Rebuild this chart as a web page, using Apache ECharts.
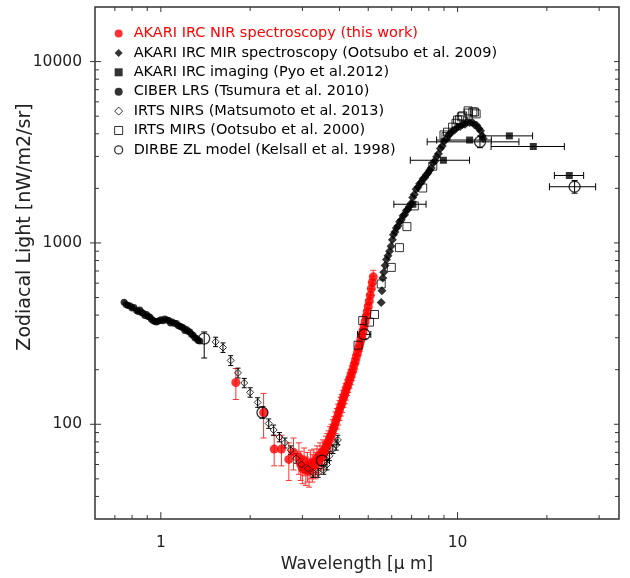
<!DOCTYPE html>
<html><head><meta charset="utf-8">
<script src="https://cdn.jsdelivr.net/npm/echarts@6/dist/echarts.min.js"></script>
<style>html,body{margin:0;padding:0;background:#fff}#c{width:630px;height:578px}</style>
</head><body><div id="c"></div>
<script>
// ---- axis ranges & ticks ----
const xRange = [0.6, 35];
const yRange = [30, 20000];
const xTickLabels = [1, 10];
const xMinorTicks = [0.7, 0.8, 0.9, 2, 3, 4, 5, 6, 7, 8, 9, 20, 30];
const yTickLabels = [100, 1000, 10000];
const yMinorTicks = [40, 50, 60, 70, 80, 90, 200, 300, 400, 500, 600, 700, 800, 900,
  2000, 3000, 4000, 5000, 6000, 7000, 8000, 9000];

const seriesNames = [
  'AKARI IRC NIR spectroscopy (this work)',
  'AKARI IRC MIR spectroscopy (Ootsubo et al. 2009)',
  'AKARI IRC imaging (Pyo et al.2012)',
  'CIBER LRS (Tsumura et al. 2010)',
  'IRTS NIRS (Matsumoto et al. 2013)',
  'IRTS MIRS (Ootsubo et al. 2000)',
  'DIRBE ZL model (Kelsall et al. 1998)'
];

// [wavelength, intensity, error]
const akariNIR = [[1.79,170,33],[2.22,116,32],[2.41,73,14],[2.55,73,14],[2.70,64,15],[2.80,70,14],[2.92,66,13],
  [2.96,60,11],[3.00,57,10],[3.04,63,11],[3.08,56,10],[3.12,59,11],[3.16,55,10],[3.20,61,11],[3.24,58,10],
  [3.28,62,11],[3.32,60,10],[3.36,65,11],[3.40,63,10],[3.44,68,11],[3.48,66,10],[3.52,71,11],[3.56,70,10],
  [3.60,75,11],[3.64,78,11],[3.68,81,11],[3.72,85,12],[3.76,88,12],[3.80,93,13],[3.84,97,13],[3.88,103,14],
  [3.92,108,14],[3.96,114,15],[4.00,120,15],[4.04,126,15],[4.08,131,15],[4.12,139,15],[4.16,145,15],
  [4.20,152,16],[4.24,160,16],[4.28,166,16],[4.32,175,17],[4.36,183,17],[4.40,192,18],[4.44,200,18],
  [4.48,212,19],[4.52,222,20],[4.56,236,21],[4.60,248,22],[4.64,262,23],[4.68,276,24],[4.72,292,26],
  [4.76,308,27],[4.80,327,29],[4.84,346,30],[4.88,368,32],[4.92,392,34],[4.96,418,37],[5.00,446,40],
  [5.04,478,42],[5.08,515,45],[5.12,560,48],[5.16,605,52],[5.20,650,56]];

// [wavelength, intensity]
const akariMIR = [[5.53,470],[5.56,545],[5.60,640],[5.64,690],[5.70,750],[5.76,810],[5.83,850],[5.90,900],
  [5.97,960],[6.03,1040],[6.08,1110],[6.15,1150],[6.22,1210],[6.30,1240],[6.38,1310],[6.46,1340],[6.55,1410],
  [6.63,1430],[6.72,1510],[6.80,1530],[6.88,1590],[6.97,1650],[7.06,1780],[7.15,1850],[7.25,1980],[7.35,2030],
  [7.45,2120],[7.55,2160],[7.65,2260],[7.75,2290],[7.85,2380],[7.95,2430],[8.05,2520],[8.15,2590],[8.27,2760],
  [8.38,2830],[8.50,2990],[8.62,3100],[8.75,3320],[8.88,3420],[9.00,3630],[9.15,3740],[9.30,3930],[9.45,4000],
  [9.60,4140],[9.80,4210],[10.0,4360],[10.2,4390],[10.4,4500],[10.6,4520],[10.8,4640],[11.0,4610],[11.2,4630],
  [11.4,4480],[11.6,4460],[11.8,4270],[11.95,4150],[12.1,3900],[12.2,3770]];

// [wavelength, intensity, band low, band high]
const pyoImaging = [[7.07,1634,6.1,7.83],[8.96,2857,6.93,10.97],[10.98,3693,8.5,13.0],
  [14.95,3893,12.2,17.9],[18.0,3403,12.97,22.9],[23.8,2355,21.2,26.6]];

// [wavelength, intensity]
const ciberLRS = [[0.752,471],[0.764,458],[0.776,452],[0.788,449],[0.800,438],[0.812,441],[0.829,424],
  [0.840,419],[0.850,427],[0.861,414],[0.872,410],[0.884,398],[0.895,403],[0.906,393],[0.918,390],[0.930,380],
  [0.942,374],[0.955,369],[0.967,366],[0.983,371],[1.000,377],[1.015,372],[1.031,381],[1.048,376],[1.064,374],
  [1.078,362],[1.092,366],[1.110,361],[1.129,359],[1.144,350],[1.159,347],[1.174,344],[1.189,341],[1.205,329],
  [1.220,333],[1.236,326],[1.252,323],[1.268,314],[1.285,310],[1.302,300],[1.319,297],[1.336,290],[1.353,288]];

// [wavelength, intensity, error]
const irtsNIRS = [[1.53,285,17],[1.62,265,16],[1.72,225,14],[1.82,192,12],[1.91,169,10],[2.00,150,9],
  [2.12,132,8],[2.31,101,6],[2.40,93,6],[2.51,85,5],[2.62,79,5],[2.74,72,4],[2.86,65,4],[2.98,60,4],
  [3.13,57,3],[3.26,54,3],[3.39,54,3],[3.54,56,3],[3.63,60,4],[3.70,67,4],[3.80,73,4],[3.90,77,5],[3.95,82,5]];

// [wavelength, intensity]
const irtsMIRS = [[4.62,273],[4.79,373],[5.05,366],[5.25,403],[5.53,594],[5.98,733],[6.37,942],[6.75,1230],
  [7.15,1600],[7.63,2009],[8.25,2650],[9.0,3940],[9.14,3860],[9.25,4080],[9.62,4350],[9.88,4570],[10.0,4757],
  [10.14,4780],[10.3,4960],[10.4,5020],[10.85,5350],[10.86,5200],[11.26,5280],[11.4,5270],[11.55,5150]];

// [wavelength, intensity, low, high, band low, band high]
const dirbeZL = [[1.40,297,232,323,null,null],[2.20,116,108,125,null,null],[3.49,63,59,67,3.35,3.70],
  [4.85,313,296,331,4.6,5.1],[11.9,3610,3350,3880,7.9,16.1],[24.8,2041,1880,2210,20.4,29.2]];

const FONT = '"DejaVu Sans", "Liberation Sans", sans-serif';

function vErr(data, color, cap) {
  return {
    type: 'custom', silent: true, clip: false, data: data,
    renderItem: function (params, api) {
      const x = api.value(0), lo = api.value(1), hi = api.value(2);
      const a = api.coord([x, lo]), b = api.coord([x, hi]);
      const st = { stroke: color, lineWidth: 1 };
      return { type: 'group', children: [
        { type: 'line', shape: { x1: a[0], y1: a[1], x2: b[0], y2: b[1] }, style: st },
        { type: 'line', shape: { x1: a[0] - cap, y1: a[1], x2: a[0] + cap, y2: a[1] }, style: st },
        { type: 'line', shape: { x1: b[0] - cap, y1: b[1], x2: b[0] + cap, y2: b[1] }, style: st }
      ] };
    }
  };
}
function hErr(data, color, cap) {
  return {
    type: 'custom', silent: true, clip: false, data: data,
    renderItem: function (params, api) {
      const lo = api.value(0), y = api.value(1), hi = api.value(2);
      const a = api.coord([lo, y]), b = api.coord([hi, y]);
      const st = { stroke: color, lineWidth: 1 };
      return { type: 'group', children: [
        { type: 'line', shape: { x1: a[0], y1: a[1], x2: b[0], y2: b[1] }, style: st },
        { type: 'line', shape: { x1: a[0], y1: a[1] - cap, x2: a[0], y2: a[1] + cap }, style: st },
        { type: 'line', shape: { x1: b[0], y1: b[1] - cap, x2: b[0], y2: b[1] + cap }, style: st }
      ] };
    }
  };
}

// tick marks: kind 0 x-major, 1 x-minor, 2 y-major, 3 y-minor
const tickData = []
  .concat(xTickLabels.map(v => [v, 100, 0]))
  .concat(xMinorTicks.map(v => [v, 100, 1]))
  .concat(yTickLabels.map(v => [1, v, 2]))
  .concat(yMinorTicks.map(v => [1, v, 3]));

const tickSeries = {
  type: 'custom', silent: true, clip: false, z: 10, data: tickData,
  renderItem: function (params, api) {
    const k = api.value(2);
    const st = { stroke: '#333', lineWidth: 1 };
    if (k < 2) {
      const v = api.value(0);
      const b = api.coord([v, yRange[0]]), t = api.coord([v, yRange[1]]);
      const lb = k === 0 ? 7 : 4, lt = k === 0 ? 5 : 4;
      return { type: 'group', children: [
        { type: 'line', shape: { x1: b[0], y1: b[1], x2: b[0], y2: b[1] - lb }, style: st },
        { type: 'line', shape: { x1: t[0], y1: t[1], x2: t[0], y2: t[1] + lt }, style: st }
      ] };
    } else {
      const v = api.value(1);
      const l = api.coord([xRange[0], v]), r = api.coord([xRange[1], v]);
      const out = k === 2 ? 5 : 0, lin = k === 2 ? 6 : 4, rin = k === 2 ? 5 : 4;
      return { type: 'group', children: [
        { type: 'line', shape: { x1: l[0] - out, y1: l[1], x2: l[0] + lin, y2: l[1] }, style: st },
        { type: 'line', shape: { x1: r[0] - rin, y1: r[1], x2: r[0], y2: r[1] }, style: st }
      ] };
    }
  }
};

function isTick(list, v) { return list.some(t => Math.abs(t - v) / t < 1e-6); }

const openStyle = { color: 'rgba(255,255,255,0)', borderColor: '#000', borderWidth: 1 };

const option = {
  animation: false,
  backgroundColor: '#fff',
  grid: { left: 95, right: 11, top: 7, bottom: 55, show: true, borderColor: '#333', borderWidth: 1.5 },
  xAxis: {
    type: 'log', logBase: 10, min: xRange[0], max: xRange[1],
    axisLine: { show: false }, axisTick: { show: false }, splitLine: { show: false },
    axisLabel: { margin: 16, color: '#222', fontSize: 15.5, fontFamily: FONT,
      formatter: v => isTick(xTickLabels, v) ? String(Math.round(v)) : '' },
    name: 'Wavelength [μ m]', nameLocation: 'middle', nameGap: 31,
    nameTextStyle: { color: '#222', fontSize: 17, fontFamily: FONT }
  },
  yAxis: {
    type: 'log', logBase: 10, min: yRange[0], max: yRange[1],
    axisLine: { show: false }, axisTick: { show: false }, splitLine: { show: false },
    axisLabel: { margin: 13, color: '#222', fontSize: 15.5, fontFamily: FONT,
      formatter: v => isTick(yTickLabels, v) ? String(Math.round(v)) : '' }
  },
  graphic: [{
    type: 'text', x: 25, y: 227, rotation: Math.PI / 2,
    style: { text: 'Zodiacal Light [nW/m2/sr]', font: '19px ' + FONT, fill: '#222',
      align: 'center', verticalAlign: 'middle', textAlign: 'center', textVerticalAlign: 'middle' }
  }],
  legend: {
    orient: 'vertical', left: 109, top: 21, itemWidth: 8, itemHeight: 8, itemGap: 4.4,
    textStyle: { fontSize: 14.5, fontFamily: FONT, color: '#000', lineHeight: 15, padding: [0, 0, 0, 6] },
    data: [
      { name: seriesNames[0], icon: 'circle', itemStyle: { color: '#ff0000' }, textStyle: { color: '#ff0000' } },
      { name: seriesNames[1], icon: 'diamond', itemStyle: { color: '#000' } },
      { name: seriesNames[2], icon: 'rect', itemStyle: { color: '#000' } },
      { name: seriesNames[3], icon: 'circle', itemStyle: { color: '#000' } },
      { name: seriesNames[4], icon: 'diamond', itemStyle: { color: '#fff', borderColor: '#000', borderWidth: 1 } },
      { name: seriesNames[5], icon: 'rect', itemStyle: { color: '#fff', borderColor: '#000', borderWidth: 1 } },
      { name: seriesNames[6], icon: 'circle', itemStyle: { color: '#fff', borderColor: '#000', borderWidth: 1.3 } }
    ]
  },
  series: [
    vErr(akariNIR.map(d => [d[0], d[1] - d[2], d[1] + d[2]]), '#ff3333', 3),
    { name: seriesNames[0], type: 'scatter', symbol: 'circle', symbolSize: 9,
      itemStyle: { color: '#ff0000' }, data: akariNIR.map(d => [d[0], d[1]]) },
    { name: seriesNames[3], type: 'scatter', symbol: 'circle', symbolSize: 7,
      itemStyle: { color: '#000' }, data: ciberLRS },
    vErr(irtsNIRS.map(d => [d[0], d[1] - d[2], d[1] + d[2]]), '#000', 2.5),
    { name: seriesNames[4], type: 'scatter', symbol: 'diamond', symbolSize: 7,
      itemStyle: openStyle, data: irtsNIRS.map(d => [d[0], d[1]]) },
    { name: seriesNames[1], type: 'scatter', symbol: 'diamond', symbolSize: 9,
      itemStyle: { color: '#000' }, data: akariMIR },
    { name: seriesNames[5], type: 'scatter', symbol: 'rect', symbolSize: 8,
      itemStyle: openStyle, data: irtsMIRS },
    hErr(pyoImaging.map(d => [d[2], d[1], d[3]]), '#000', 3.5),
    { name: seriesNames[2], type: 'scatter', symbol: 'rect', symbolSize: 7,
      itemStyle: { color: '#000' }, data: pyoImaging.map(d => [d[0], d[1]]) },
    vErr(dirbeZL.map(d => [d[0], d[2], d[3]]), '#000', 3),
    hErr(dirbeZL.filter(d => d[4] !== null).map(d => [d[4], d[1], d[5]]), '#000', 3.5),
    { name: seriesNames[6], type: 'scatter', symbol: 'circle', symbolSize: 11,
      itemStyle: { color: 'rgba(255,255,255,0)', borderColor: '#000', borderWidth: 1.3 },
      data: dirbeZL.map(d => [d[0], d[1]]) },
    tickSeries
  ]
};

const chart = echarts.init(document.getElementById('c'), null, { renderer: 'canvas' });
chart.setOption(option);
</script>
</body></html>
